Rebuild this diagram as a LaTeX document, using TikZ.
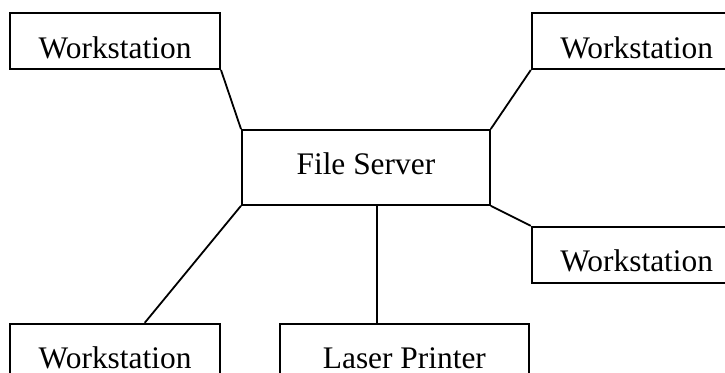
\documentclass[tikz,border=0pt]{standalone}
\usepackage{fontspec}
\setmainfont{Liberation Serif}
\usetikzlibrary{positioning,calc}

\begin{document}
\begin{tikzpicture}[
  box/.style={draw=black, line width=0.9pt, fill=white,
              font=\fontsize{15.7}{18}\selectfont, align=center,
              inner xsep=0pt, inner ysep=0pt, text height=22.5pt},
  station/.style={box, minimum width=105pt, text depth=5.5pt},
  server/.style={box, minimum width=124pt, text depth=15pt},
  printer/.style={box, minimum width=124.5pt, text depth=5.5pt},
  link/.style={black, line width=0.9pt},
]

%% ---- Centre: file server ----
\node[server] (fs) {File Server};

%% ---- Page frame ----
\clip ($(fs.north west)+(-120.5pt,64.5pt)$) rectangle ($(fs.north west)+(242pt,-121.5pt)$);

%% ---- Workstations and printer round the server ----
\node[station, above left=29.5pt and 10pt of fs]  (ws1) {Workstation};
\node[station, above right=29.5pt and 20pt of fs] (ws2) {Workstation};
\node[station, below right=10pt and 20pt of fs]   (ws3) {Workstation};
\node[station, below left=58.5pt and 10pt of fs]  (ws4) {Workstation};
\node[printer, below=58.5pt of fs, xshift=19.25pt] (lp) {Laser Printer};

%% ---- Links ----
\coordinate (ws4top) at ($(ws4.north west)!0.64!(ws4.north east)$);
\coordinate (fsdrop) at ($(fs.south west)!0.545!(fs.south east)$);

\draw[link] (ws1.south east) -- (fs.north west);
\draw[link] (ws2.south west) -- (fs.north east);
\draw[link] (ws3.north west) -- (fs.south east);
\draw[link] (ws4top) -- (fs.south west);
\draw[link] (fsdrop) -- (fsdrop |- lp.north);

\end{tikzpicture}
\end{document}
